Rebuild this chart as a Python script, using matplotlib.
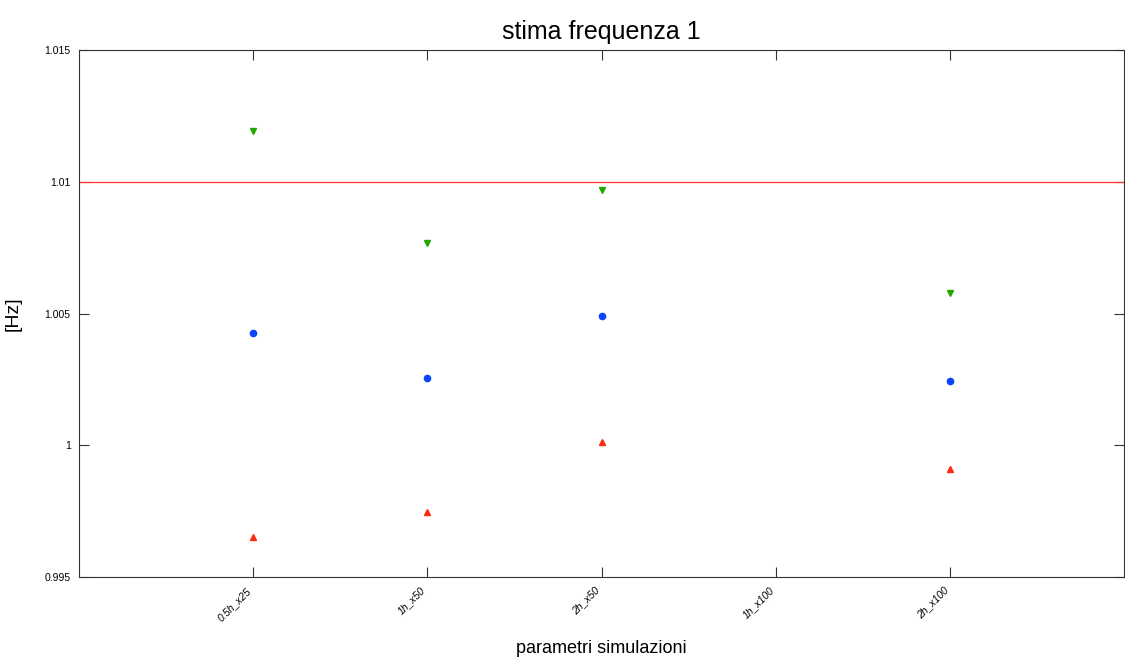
import numpy as np
import matplotlib.pyplot as plt

plt.rcParams['font.family'] = ['Liberation Sans', 'DejaVu Sans']

labels = ['0.5h_x25', '1h_x50', '2h_x50', '1h_x100', '2h_x100']
upper = [1.01193, 1.00768, 1.00969, np.nan, 1.00578]
stima = [1.00426, 1.00255, 1.00491, np.nan, 1.00244]
lower = [0.99652, 0.99747, 1.00012, np.nan, 0.99910]
f_vera = 1.01

x = np.arange(1, len(labels) + 1)

fig = plt.figure(figsize=(11.25, 6.61), dpi=100)
ax = fig.add_axes([0.0702, 0.127, 0.929, 0.797])

ax.axhline(f_vera, color='#ff3030', lw=0.9)
ax.plot(x, upper, 'v', color='#22a800', ms=4.5)
ax.plot(x, stima, 'o', color='#0a46ff', ms=4.5)
ax.plot(x, lower, '^', color='#ff2a10', ms=4.5)

ax.set_xlim(0, 6)
ax.set_ylim(0.995, 1.015)
ax.set_xticks(x)
ax.set_xticklabels(labels, rotation=45, ha='right', fontsize=7.5, fontstyle='italic')
ax.set_yticks([0.995, 1.0, 1.005, 1.01, 1.015])
ax.set_yticklabels(['0.995', '1', '1.005', '1.01', '1.015'], fontsize=7.5)
ax.tick_params(direction='in', top=True, right=True, length=7, width=0.8, color='#333333', pad=6)
for s in ax.spines.values():
    s.set_linewidth(0.8)
    s.set_color('#333333')

ax.set_title('stima frequenza 1', fontsize=18, pad=8)
ax.set_xlabel('parametri simulazioni', fontsize=13)
ax.set_ylabel('[Hz]', fontsize=14)
ax.xaxis.set_label_coords(0.5, -0.12)
ax.yaxis.set_label_coords(-0.055, 0.5)

fig.savefig('out.png', dpi=100)
